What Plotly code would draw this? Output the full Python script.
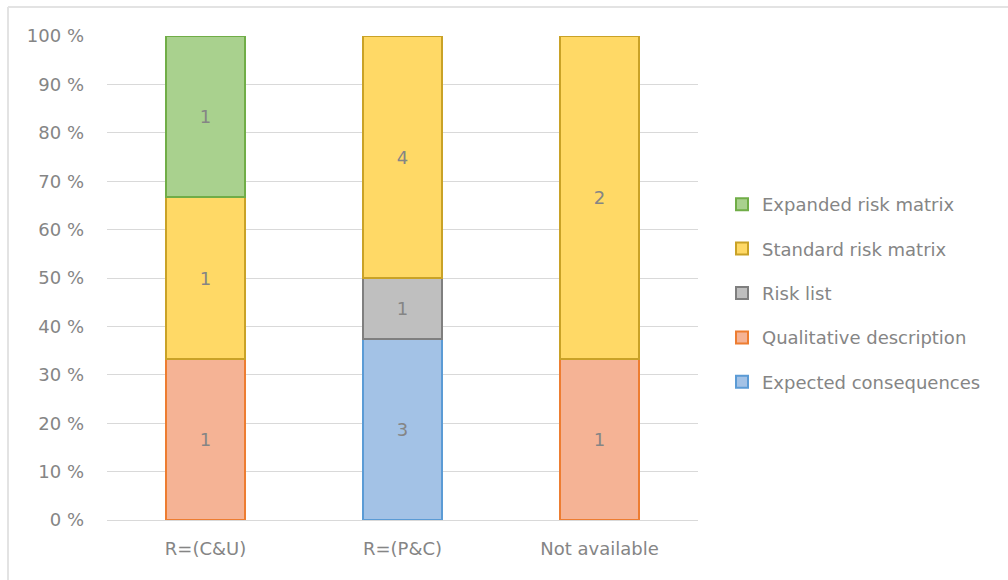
import plotly.graph_objects as go

categories = ["R=(C&U)", "R=(P&C)", "Not available"]
series_names = ["Expected consequences", "Qualitative description", "Risk list",
                "Standard risk matrix", "Expanded risk matrix"]
expected = [None, 3, None]
qualitative = [1, None, 1]
risk_list = [None, 1, None]
standard = [1, 4, 2]
expanded = [1, None, None]
y_ticks = list(range(0, 101, 10))
y_tick_labels = [f"{v} %" for v in y_ticks]

values = [expected, qualitative, risk_list, standard, expanded]
fills = ["#a3c2e6", "#f5b395", "#bfbfbf", "#ffd966", "#a9d18e"]
borders = ["#5b9bd5", "#ed7d31", "#7f7f7f", "#c9a227", "#70ad47"]
ranks = [5, 4, 3, 2, 1]

FONT = "DejaVu Sans"
GRAY = "#858585"
FS = 18

fig = go.Figure()
for name, vals, fc, bc, rk in zip(series_names, values, fills, borders, ranks):
    fig.add_trace(go.Bar(
        x=categories, y=vals, name=name,
        text=[("" if v is None else str(v)) for v in vals],
        textposition="inside", insidetextanchor="middle",
        textfont=dict(family=FONT, size=FS, color=GRAY),
        marker=dict(color=fc, line=dict(color=bc, width=2)),
        legendgroup=name, legendrank=rk,
        width=0.405,
    ))

fig.update_layout(
    width=1008, height=580,
    barmode="stack", barnorm="percent",
    plot_bgcolor="white", paper_bgcolor="white",
    margin=dict(l=107, r=310, t=36, b=60),
    font=dict(family=FONT, size=FS, color=GRAY),
    legend=dict(
        xref="container", yref="container",
        x=722 / 1008, y=1 - 186 / 580, xanchor="left", yanchor="top",
        traceorder="grouped", tracegroupgap=18,
        font=dict(family=FONT, size=FS, color=GRAY),
        itemwidth=30,
    ),
    xaxis=dict(showgrid=False, showline=False, ticks="", tickfont=dict(size=FS, color=GRAY),
               ticklabelstandoff=16),
    yaxis=dict(range=[0, 100], tickvals=y_ticks, ticktext=y_tick_labels,
               showgrid=True, gridcolor="#d9d9d9", gridwidth=1,
               zeroline=True, zerolinecolor="#d9d9d9", zerolinewidth=1,
               showline=False, ticks="", ticklabelstandoff=22,
               tickfont=dict(size=FS, color=GRAY)),
)

# light frame of the original chart area (top and left edges)
fig.add_shape(type="line", xref="paper", yref="paper",
              x0=-99 / 591, x1=(1008 - 107) / 591, y0=1 + 29 / 484, y1=1 + 29 / 484,
              line=dict(color="#e3e3e3", width=2))
fig.add_shape(type="line", xref="paper", yref="paper",
              x0=-99 / 591, x1=-99 / 591, y0=1 + 29 / 484, y1=-60 / 484,
              line=dict(color="#e3e3e3", width=2))

fig.write_html("out.html")
